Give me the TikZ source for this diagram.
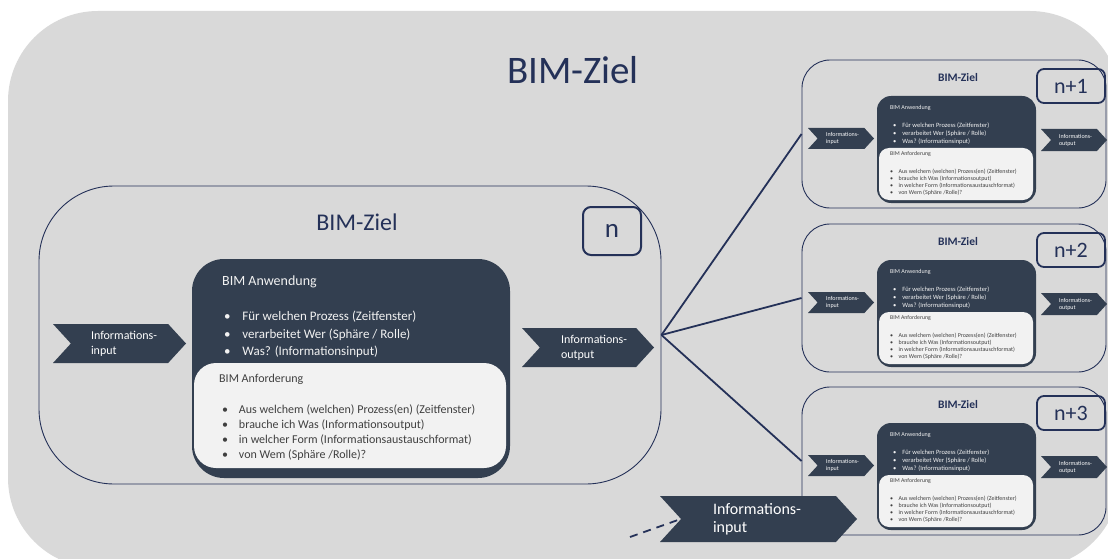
\documentclass[tikz,border=0pt]{standalone}
\usepackage{fontspec}
\setmainfont{Carlito}
\usepackage{xcolor}
\usetikzlibrary{shapes.symbols,positioning}
\definecolor{bimgray}{HTML}{D9D9D9}
\definecolor{bimnavy}{HTML}{243158}
\definecolor{bimslate}{HTML}{333F50}
\definecolor{bimpaper}{HTML}{F2F2F2}
\definecolor{bimink}{HTML}{404040}
\newcommand{\bimpt}{\makebox[1.4em][l]{\textbullet}}
\newcommand{\fs}[2]{\fontsize{#1}{#2}\selectfont}

\begin{document}
\begin{tikzpicture}[x=1pt,y=-1pt,
        zielbox/.style={draw=bimnavy,line width=0.9pt,rectangle},
        numbox/.style={draw=bimnavy,line width=1.8pt,rounded corners=7pt,text=bimnavy},
        usebox/.style={fill=bimslate,rectangle},
        reqbox/.style={fill=bimpaper,rectangle},
        chevron/.style={signal,signal from=west,signal to=east,signal pointer angle=95,
            fill=bimslate,text=white,inner sep=0pt,align=left},
        txt/.style={inner sep=0pt,anchor=west,align=left},
        link/.style={draw=bimnavy,line width=1.8pt}]
        \useasboundingbox (0,0) rectangle (1108,559);
        \clip (0,0) rectangle (1108,559);

        % Background
        \fill[bimgray,rounded corners=90pt] (8,11) rectangle (1120,568);
        \node[font=\fs{39}{44},text=bimnavy] (titleTop) at (573,70) {BIM-Ziel};

        % BIM-Ziel n
        \node[zielbox,rounded corners=75pt,minimum width=622pt,minimum height=298pt] (zielN) at (350,335) {};
        \node[font=\fs{24}{28},text=bimnavy] (titleN) at (357,222) {BIM-Ziel};
        \node[numbox,rounded corners=8pt,line width=2pt,minimum width=58pt,minimum height=48pt,font=\fs{27}{30}] (numN) at (612,231) {n};
        \node[usebox,rounded corners=32pt,minimum width=318pt,minimum height=219pt] (useN) at (351,368.5) {};
        \node[reqbox,rounded corners=22pt,minimum width=312pt,minimum height=105pt] (reqN) at (350,415.5) {};
        \node[txt,text=bimpaper,font=\fs{14}{17}] (useNhead) at (222,282) {BIM Anwendung};
        \node[txt,text=bimpaper,font=\fs{13}{17.5}] (useNlist) at (224,334.5)
            {\bimpt Für welchen Prozess (Zeitfenster)\\ \bimpt verarbeitet Wer (Sphäre / Rolle)\\ \bimpt Was? (Informationsinput)};
        \node[txt,text=bimink,font=\fs{12}{14}] (reqNhead) at (219,379) {BIM Anforderung};
        \node[txt,text=bimink,font=\fs{12}{15}] (reqNlist) at (222,432.5)
            {\bimpt Aus welchem (welchen) Prozess(en) (Zeitfenster)\\ \bimpt brauche ich Was (Informationsoutput)\\
             \bimpt in welcher Form (Informationsaustauschformat)\\ \bimpt von Wem (Sphäre /Rolle)?};
        \node[chevron,minimum width=133pt,minimum height=39pt,text width=57pt,font=\fs{12}{15}] (inN) at (119.5,343.5)
            {\mbox{Informations-}\\input};
        \node[chevron,minimum width=132pt,minimum height=39pt,text width=54pt,font=\fs{12}{15}] (outN) at (588,347.5)
            {\mbox{Informations-}\\output};

        % BIM-Ziel n+1 ... n+3
        \foreach \oy/\num/\id in {60/n+1/A,224/n+2/B,387/n+3/C}{
            \node[zielbox,rounded corners=28pt,minimum width=304pt,minimum height=148pt] (ziel\id) at (954,{\oy+74}) {};
            \node[font=\fs{11.5}{13}\bfseries,text=bimnavy] (title\id) at (958,{\oy+18}) {BIM-Ziel};
            \node[numbox,minimum width=68pt,minimum height=34pt,font=\fs{22}{24}] (num\id) at (1071,{\oy+26}) {\num};
            \node[usebox,rounded corners=14pt,minimum width=159pt,minimum height=107pt] (use\id) at (956.5,{\oy+89.5}) {};
            \node[reqbox,rounded corners=10pt,minimum width=154pt,minimum height=52pt] (req\id) at (956,{\oy+114}) {};
            \node[txt,text=bimpaper,font=\fs{6}{7}] (use\id head) at (890,{\oy+48}) {BIM Anwendung};
            \node[txt,text=bimpaper,font=\fs{6.5}{8}] (use\id list) at (893,{\oy+74})
                {\bimpt Für welchen Prozess (Zeitfenster)\\ \bimpt verarbeitet Wer (Sphäre / Rolle)\\ \bimpt Was? (Informationsinput)};
            \node[txt,text=bimink,font=\fs{5.8}{7}] (req\id head) at (890,{\oy+94}) {BIM Anforderung};
            \node[txt,text=bimink,font=\fs{6}{7}] (req\id list) at (890,{\oy+122.5})
                {\bimpt Aus welchem (welchen) Prozess(en) (Zeitfenster)\\ \bimpt brauche ich Was (Informationsoutput)\\
                 \bimpt in welcher Form (Informationsaustauschformat)\\ \bimpt von Wem (Sphäre /Rolle)?};
            \node[chevron,minimum width=66pt,minimum height=21pt,text width=30pt,font=\fs{6}{7}] (in\id) at (841,{\oy+78.5})
                {\mbox{Informations-}\\input};
            \node[chevron,minimum width=66pt,minimum height=22pt,text width=30pt,font=\fs{6}{7}] (out\id) at (1074,{\oy+80})
                {\mbox{Informations-}\\output};
        }

        % Connectors
        \foreach \id in {A,B,C}
            \draw[link] (zielN.east) -- (ziel\id.west);

        % Informationsinput
        \node[chevron,minimum width=197pt,minimum height=46pt,text width=91pt,font=\fs{16}{18}] (inX) at (758.5,519)
            {\mbox{Informations-}\\input};
        \coordinate (loose) at (630,537);
        \draw[link,dash pattern=on 8pt off 6pt] (loose) -- (inX.west);
\end{tikzpicture}
\end{document}
